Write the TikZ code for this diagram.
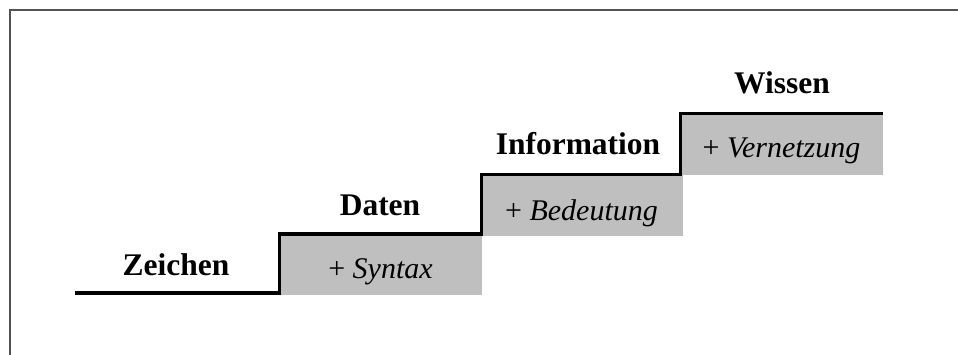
\documentclass[tikz,border=0pt]{standalone}
\usepackage{fontspec}
\setmainfont{Liberation Serif}
\begin{document}
\begin{tikzpicture}[x=1pt,y=-1pt,
  frameline/.style={draw=black!68,line width=2pt},
  stairline/.style={draw=black,line width=3.2pt,line join=miter},
  stepbox/.style={fill=black!25,draw=none,minimum width=202pt,minimum height=61pt,inner sep=0pt,outer sep=0pt},
  level/.style={anchor=base,font=\fontsize{31.5}{36}\selectfont\bfseries,inner sep=0pt},
  gain/.style={anchor=base,font=\fontsize{30}{36}\selectfont,inner sep=0pt}]
\useasboundingbox (0,0) rectangle (958,354);
\fill[white] (0,0) rectangle (958,354);
% frame
\draw[frameline] (10,356) -- (10,10) -- (960,10);
% grey boxes
\node[stepbox] (b1) at (380.5,264.5) {};
\node[stepbox] (b2) at (581.5,205) {};
\node[stepbox] (b3) at (781.5,144) {};
% stair line
\coordinate (z) at (75,293);
\draw[stairline] (z) -| (b1.north west) -| ([xshift=1pt]b2.north west) -| (b3.north west) -- (b3.north east);
% gains
\node[gain] (g1) at ([yshift=-14pt]b1.center) {+ \textit{Syntax}};
\node[gain] (g2) at ([yshift=-15pt]b2.center) {+ \textit{Bedeutung}};
\node[gain] (g3) at ([yshift=-13pt]b3.center) {+ \textit{Vernetzung}};
% levels
\node[level] (l0) at (176,275) {Zeichen};
\node[level] (l1) at (380,215) {Daten};
\node[level] (l2) at (578,154) {Information};
\node[level] (l3) at (782,93) {Wissen};
\end{tikzpicture}
\end{document}
